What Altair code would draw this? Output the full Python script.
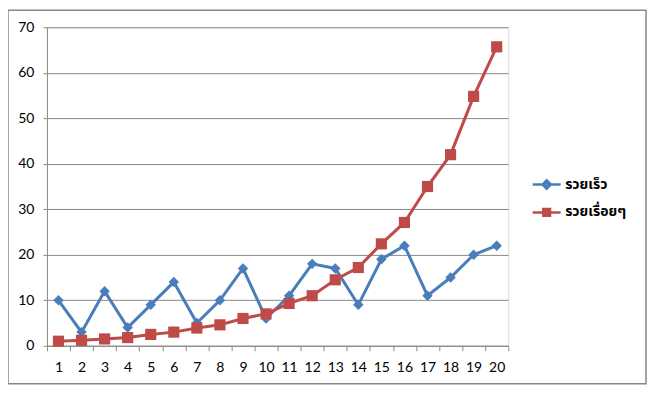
import altair as alt
import pandas as pd

x_labels = list(range(1, 21))
series_names = ["รวยเร็ว", "รวยเรื่อยๆ"]
fast = [10, 3, 12, 4, 9, 14, 5, 10, 17, 6, 11, 18, 17, 9, 19, 22, 11, 15, 20, 22]
steady = [1.0, 1.2, 1.5, 1.8, 2.5, 3.0, 3.9, 4.6, 6.0, 7.0, 9.3, 11.0, 14.5, 17.2, 22.4, 27.1, 35.0, 42.0, 54.8, 65.7]
colors = ["#4A7EBB", "#BE4B48"]

rows = []
for i, xv in enumerate(x_labels):
    rows.append({"x": xv, "v": fast[i], "s": series_names[0]})
for i, xv in enumerate(x_labels):
    rows.append({"x": xv, "v": steady[i], "s": series_names[1]})
df = pd.DataFrame(rows)

FONT = "Lato, Noto Sans Thai, Tahoma, sans-serif"
GRAY = "#8A8A8A"

xenc = alt.X("x:O", scale=alt.Scale(type="band", paddingInner=0, paddingOuter=0),
             axis=alt.Axis(title=None, labelAngle=0, tickBand="extent", domainColor=GRAY,
                           tickColor=GRAY, tickSize=5, labelPadding=10, labelFontSize=14,
                           labelFont=FONT, labelColor="#000000", grid=False))
yenc = alt.Y("v:Q", scale=alt.Scale(domain=[0, 70]),
             axis=alt.Axis(title=None, values=[0, 10, 20, 30, 40, 50, 60, 70], gridColor=GRAY,
                           domainColor=GRAY, tickColor=GRAY, tickSize=4, labelPadding=9,
                           labelFontSize=14, labelFont=FONT, labelColor="#000000"))

legend_paths = [
    "M-1,0L-0.3,0M-0.3,0L0,-0.3L0.3,0L0,0.3ZM-0.15,0L0,-0.15L0.15,0L0,0.15ZM0.3,0L1,0",
    "M-1,0L-0.24,0M-0.24,-0.24L0.24,-0.24L0.24,0.24L-0.24,0.24ZM-0.1,-0.1L0.1,-0.1L0.1,0.1L-0.1,0.1ZM0.24,0L1,0",
]
legend_y = [142, 170]


def make_legend(k):
    return alt.Legend(title=None, orient="none", legendX=485, legendY=legend_y[k],
                      symbolType=legend_paths[k], symbolSize=784, labelOffset=3,
                      symbolStrokeWidth=2.5, labelFontSize=14, labelFont=FONT,
                      labelFontWeight="bold", labelColor="#000000", padding=0)


base = alt.Chart(df).encode(x=xenc, y=yenc)

layers = []
shapes = ["diamond", "square"]
sizes = [110, 125]
for k, name in enumerate(series_names):
    sub = base.transform_filter(alt.datum.s == name)
    sc = alt.Scale(domain=[name], range=[colors[k]])
    if k == 0:
        line = sub.mark_line(strokeWidth=3).encode(stroke=alt.Stroke("s:N", scale=sc, legend=make_legend(k)))
    else:
        line = sub.mark_line(strokeWidth=3).encode(color=alt.Color("s:N", scale=sc, legend=make_legend(k)))
    layers.append(line)
    layers.append(sub.mark_point(filled=True, opacity=1, shape=shapes[k], size=sizes[k], color=colors[k]))

border = alt.Chart(alt.Data(values=[{}])).mark_rect(fill="transparent", stroke="#868686", strokeWidth=1.5).encode(
    x=alt.value(-39), x2=alt.value(600), y=alt.value(-17), y2=alt.value(357))

chart = alt.layer(border, *layers).properties(
    width=462, height=319,
    autosize=alt.AutoSizeParams(type="none"),
    padding={"left": 39, "top": 19, "right": 141, "bottom": 40},
).resolve_scale(color="independent", stroke="independent").configure_view(strokeWidth=0).configure(background="#ffffff")

chart.save("out.html", embed_options={"renderer": "svg", "actions": False})
